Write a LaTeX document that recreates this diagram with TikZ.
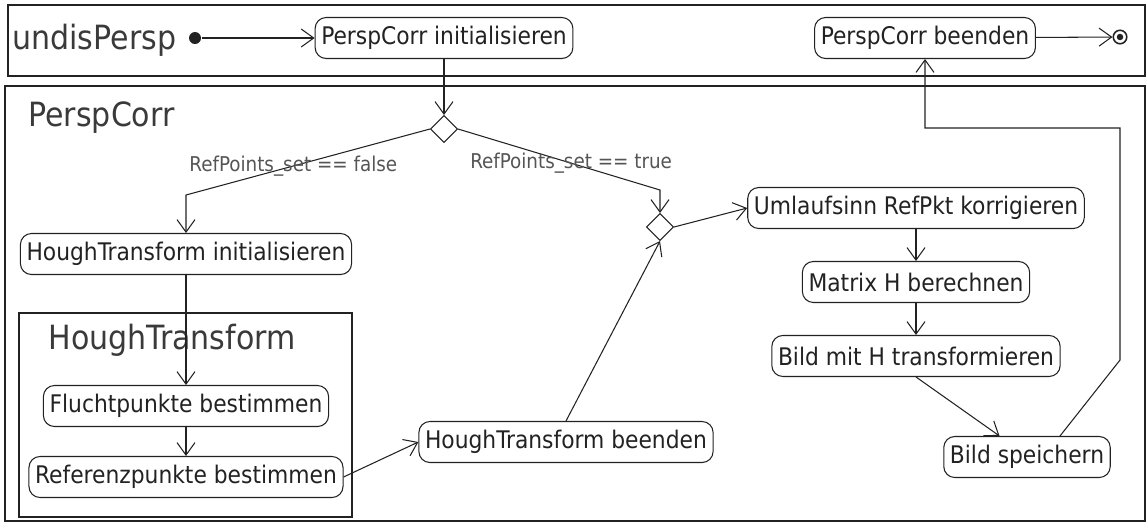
\documentclass[tikz,border=0pt]{standalone}
\usepackage{fontspec}
\setmainfont{DejaVu Sans Condensed}
\usepackage{tikz}
\usetikzlibrary{shapes,arrows.meta,calc}
\definecolor{ink}{HTML}{222222}
\definecolor{titlegray}{HTML}{3A3A3A}
\definecolor{guardgray}{HTML}{555555}
\tikzstyle{line} = [draw, -{Straight Barb[length=2.5mm,width=3.6mm]}]
\tikzstyle{action} = [draw, rectangle, rounded corners=0.22cm, text centered, minimum height=0.82cm, inner xsep=3.5pt, font=\fontsize{13.8}{16}\selectfont]
\tikzstyle{decision} = [draw, diamond, minimum size=0.54cm, inner sep=0pt]
\tikzstyle{region} = [draw]
\tikzstyle{title} = [font=\fontsize{19}{22}\selectfont, text=titlegray, anchor=west, inner sep=0pt]
\tikzstyle{guard} = [font=\fontsize{11.6}{14}\selectfont, text=guardgray, pos=0.56, anchor=center]
\tikzstyle{initial} = [circle, fill=ink, inner sep=0pt, minimum size=0.24cm]
\tikzstyle{final} = [circle, draw, line width=0.9pt, inner sep=0pt, minimum size=0.27cm]

\begin{document}
\begin{tikzpicture}[x=0.02cm, y=-0.02cm, node distance=1.48cm, line width=0.6pt, draw=ink, text=ink]
        \useasboundingbox (0,0) rectangle (1148,522);
        % frames
        \draw[region] (8,5) rectangle (1145,76);
        \draw[region] (5,86) rectangle (1145,521);
        \draw[region] (19,313) rectangle (352,517);
        \node[title] (main) at (12,40) {undisPersp};
        \node[title] (corr) at (28,118) {PerspCorr};
        \node[title] (hough) at (48,340) {HoughTransform};
        % nodes
        \node[initial] (start) at (195,38) {};
        \node[action] (init) at (444,38) {PerspCorr initialisieren};
        \node[action] (beenden) at (925,38) {PerspCorr beenden};
        \node[final] (stop) at (1120,37) {};
        \fill[ink] (stop.center) circle (0.065cm);
        \node[decision] (d1) at (444,129) {};
        \node[action] (htinit) at (186,254) {HoughTransform initialisieren};
        \node[action] (flucht) at (186,406) {Fluchtpunkte bestimmen};
        \node[action, below of=flucht, node distance=1.42cm] (refpkt) {Referenzpunkte bestimmen};
        \node[action] (htend) at (566,442) {HoughTransform beenden};
        \node[decision] (d2) at (660,227) {};
        \node[action] (umlauf) at (916,208) {Umlaufsinn RefPkt korrigieren};
        \node[action, below of=umlauf] (matrix) {Matrix H berechnen};
        \node[action, below of=matrix] (trafo) {Bild mit H transformieren};
        \node[action] (save) at (1027,457) {Bild speichern};
        \coordinate (fbend) at (186,195);
        \coordinate (tbend) at (660,190);
        % connectors
        \path[line] (start) -- (init);
        \path[line] (init) -- (d1);
        \path[line] (d1.west) -- node[guard] {RefPoints\_set == false} (fbend) -- (htinit);
        \path[line] (d1.east) -- node[guard] {RefPoints\_set == true} (tbend) -- (d2);
        \path[line] (htinit) -- (flucht);
        \path[line] (flucht) -- (refpkt);
        \path[line] (refpkt.east) -- (htend.west);
        \path[line] (htend.north) -- (d2.south);
        \path[line] (d2.east) -- (umlauf.west);
        \path[line] (umlauf) -- (matrix);
        \path[line] (matrix) -- (trafo);
        \path[line] (trafo.south) -- ([xshift=-0.55cm]save.north);
        \path[line] ([xshift=0.66cm]save.north) -- (1120,360) -- (1120,128) -| (beenden.south);
        \path[line] (beenden) -- (stop);
    \end{tikzpicture}
\end{document}
